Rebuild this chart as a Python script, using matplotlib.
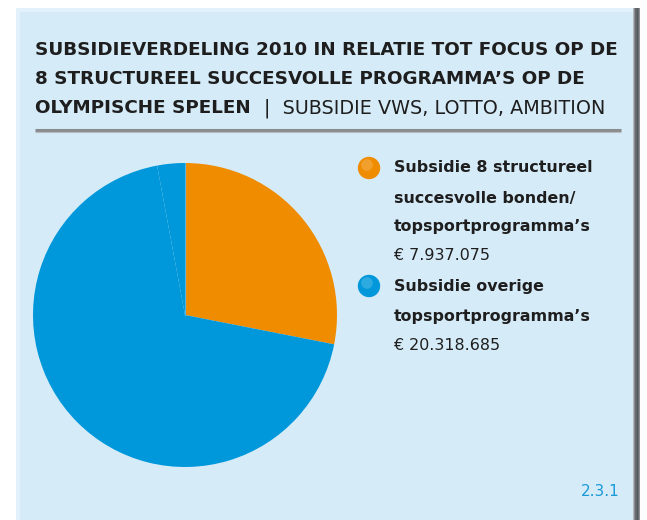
import matplotlib.pyplot as plt
from matplotlib.patches import Rectangle
import numpy as np

# data
labels = ['Subsidie 8 structureel succesvolle bonden/topsportprogramma\u2019s',
          'Subsidie overige topsportprogramma\u2019s']
totals = ['\u20ac 7.937.075', '\u20ac 20.318.685']
# slices as drawn (blue part shows a second small segment)
slice_values = [7937075, 19488685, 830000]
slice_colors = ['#F08C00', '#0098DA', '#0098DA']
legend_colors = ['#F08C00', '#0098DA']
title_bold = ['SUBSIDIEVERDELING 2010 IN RELATIE TOT FOCUS OP DE',
              '8 STRUCTUREEL SUCCESVOLLE PROGRAMMA\u2019S OP DE',
              'OLYMPISCHE SPELEN']
title_light = '|  SUBSIDIE VWS, LOTTO, AMBITION'
legend_lines = [['Subsidie 8 structureel', 'succesvolle bonden/', 'topsportprogramma\u2019s'],
                ['Subsidie overige', 'topsportprogramma\u2019s']]
figure_no = '2.3.1'

W, H = 647, 520
fig = plt.figure(figsize=(W / 100, H / 100), dpi=100)
fig.patch.set_facecolor('white')

fam = ['DejaVu Sans']

# background panel in pixel coords
bg = fig.add_axes([0, 0, 1, 1])
bg.set_xlim(0, W)
bg.set_ylim(H, 0)
bg.axis('off')
bg.add_patch(Rectangle((16, 8), 620, 520, facecolor='#D6EBF8', edgecolor='none'))
bg.add_patch(Rectangle((16, 8), 620, 4, facecolor='#E2F1FB', edgecolor='none'))
bg.add_patch(Rectangle((16, 8), 4, 520, facecolor='#E2F1FB', edgecolor='none'))
# right shadow
for i, c in enumerate(['#b4b8bc', '#8a8e92', '#65696d', '#55595d', '#6a6e72', '#8c9094']):
    bg.add_patch(Rectangle((633 + i * 1.2, 8), 1.2, 520, facecolor=c, edgecolor='none'))
# separator line
bg.plot([35, 621], [130, 130], color='#8a8d90', lw=2.2, solid_capstyle='butt')
bg.plot([35, 621], [131.5, 131.5], color='#b8bcc0', lw=0.8, solid_capstyle='butt')

# title
ty = [50, 79, 108]
for i, line in enumerate(title_bold):
    t = bg.text(35, ty[i], line, fontsize=13.2, fontweight='bold', color='#1e1e1e',
                family=fam, va='center', ha='left')
fig.canvas.draw()
bb = t.get_window_extent()
x_end = bb.x1 * W / fig.bbox.width
bg.text(x_end + 13, ty[2], title_light, fontsize=13.8, color='#1e1e1e',
        family=fam, va='center', ha='left')

# pie
cx, cy, r = 185, 315, 152
ax = fig.add_axes([(cx - r) / W, (H - cy - r) / H, 2 * r / W, 2 * r / H])
wedges, _ = ax.pie(slice_values, colors=slice_colors, startangle=90, counterclock=False,
                   wedgeprops=dict(linewidth=0))
ax.set_xlim(-1, 1)
ax.set_ylim(-1, 1)
ax.set_aspect('equal')
ax.axis('off')
# faint divider between the two blue segments
ang = np.deg2rad(wedges[2].theta1)
ax.plot([0, np.cos(ang)], [0, np.sin(ang)], color='#4fb6e6', lw=0.8)

# legend
lx, tx = 369, 394
ys = [[168, 198, 227], [286, 316]]
vy = [256, 345]
for k in range(2):
    bg.scatter([lx], [ys[k][0]], s=260, color=legend_colors[k], edgecolor='none', zorder=3)
    bg.scatter([lx - 2], [ys[k][0] - 3], s=70, color='white', alpha=0.18,
               edgecolor='none', zorder=4)
    for j, line in enumerate(legend_lines[k]):
        bg.text(tx, ys[k][j], line, fontsize=11.4, fontweight='bold', color='#1e1e1e',
                family=fam, va='center', ha='left')
    bg.text(tx, vy[k], totals[k], fontsize=11.4, color='#1e1e1e',
            family=fam, va='center', ha='left')

bg.text(620, 491, figure_no, fontsize=11, color='#1a9ad6', family=fam,
        va='center', ha='right')

fig.savefig('out.png', dpi=100)
